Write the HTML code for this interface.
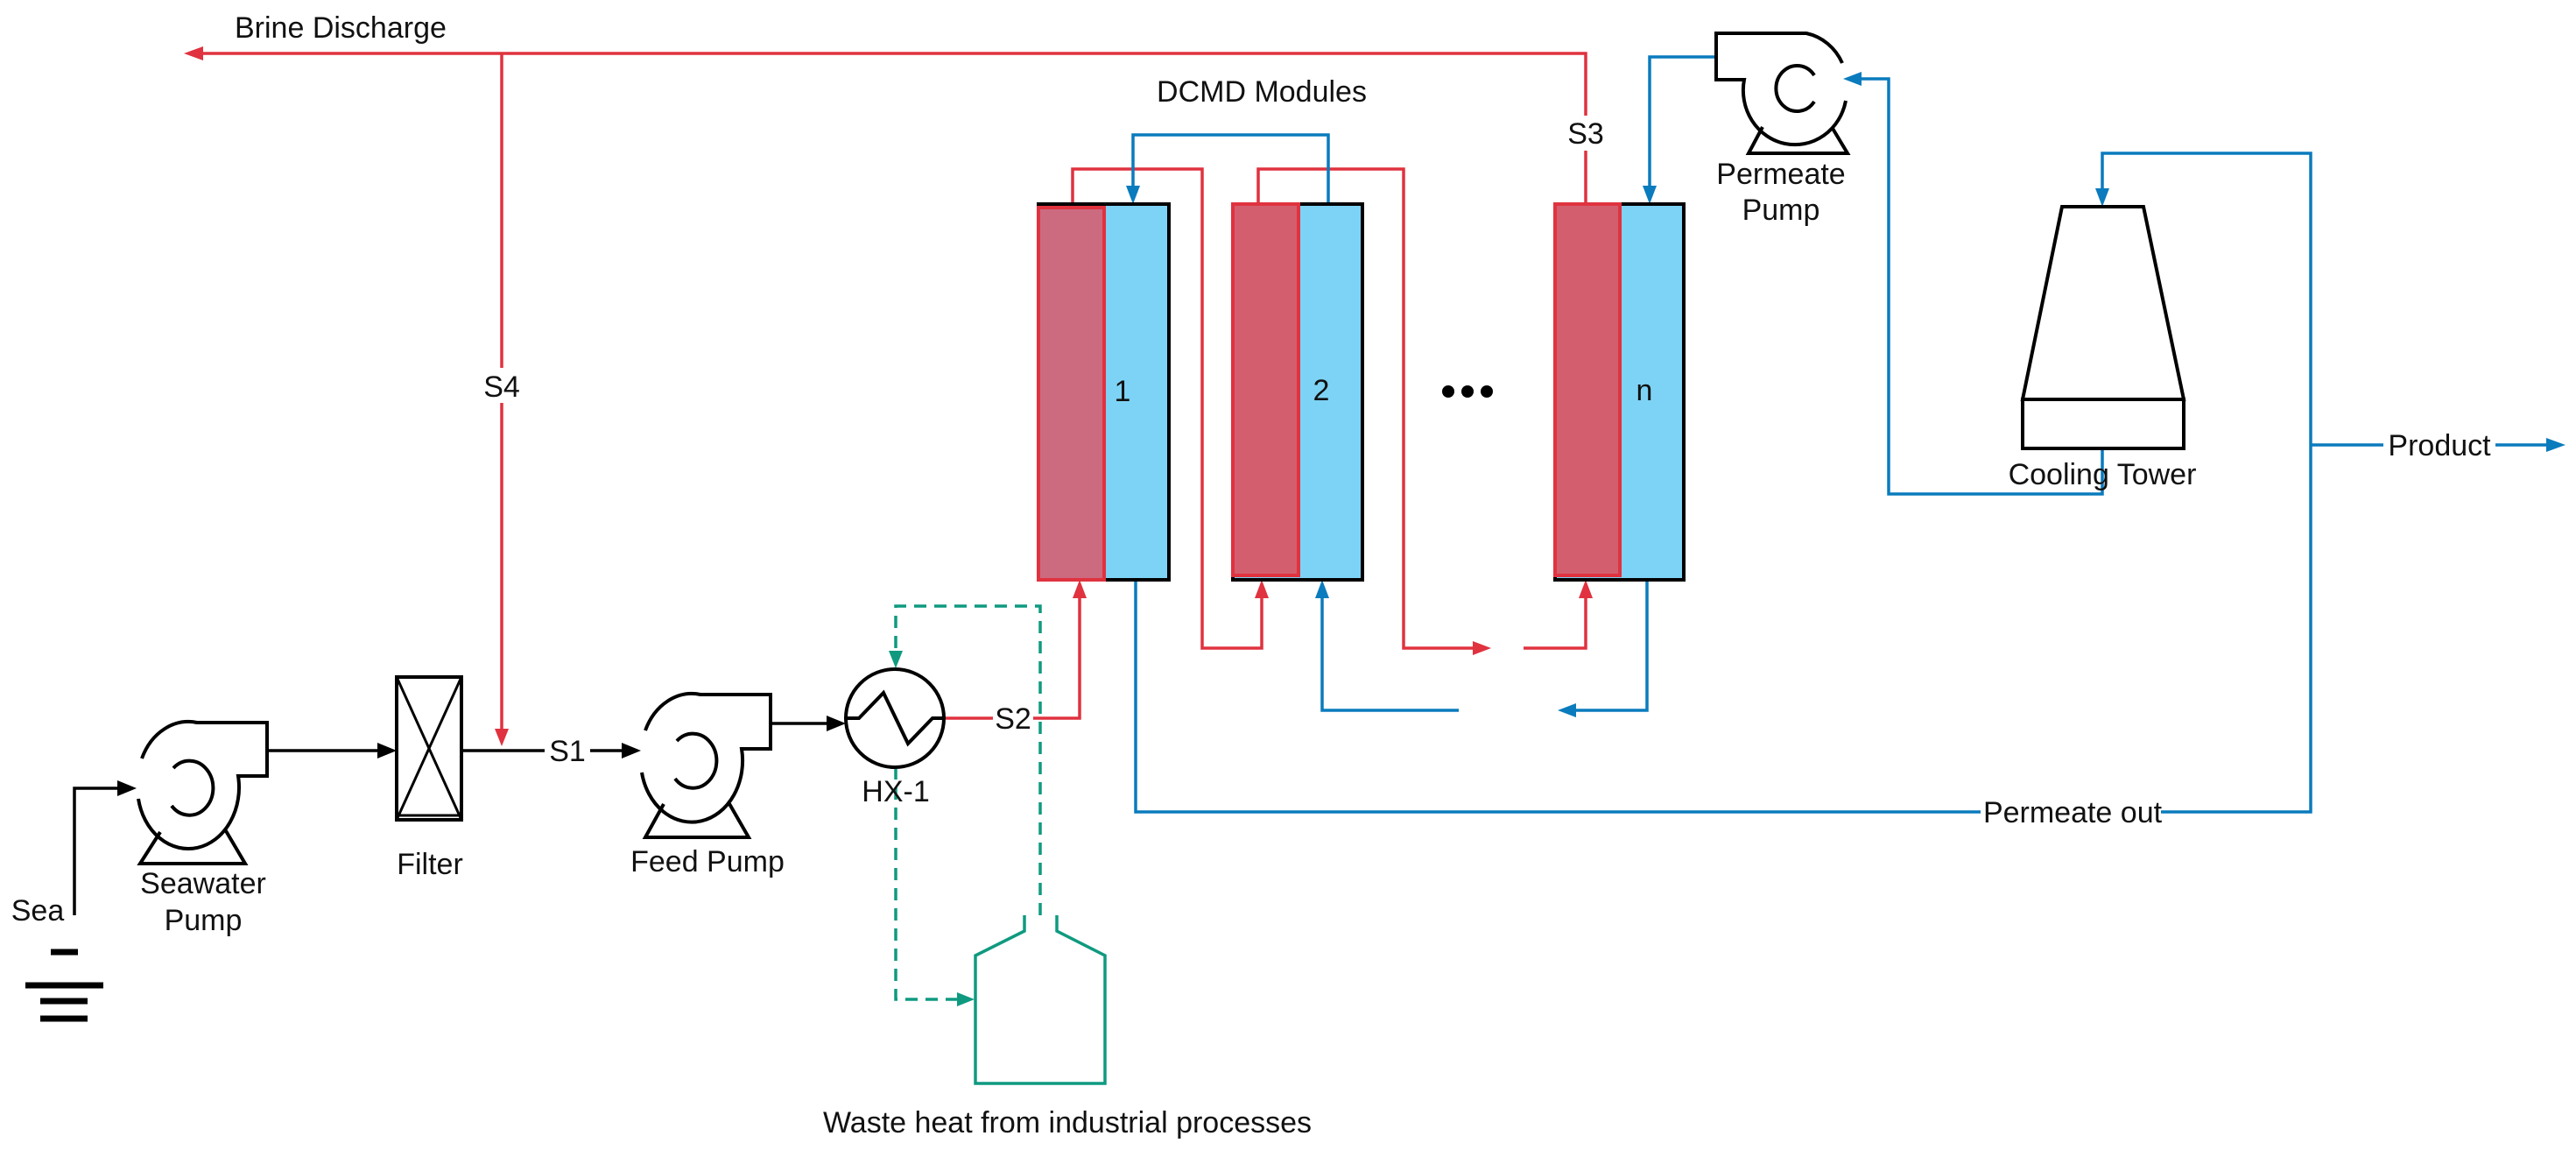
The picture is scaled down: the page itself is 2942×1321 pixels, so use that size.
<!DOCTYPE html>
<html><head><meta charset="utf-8"><style>
html,body{margin:0;padding:0;background:#fff;}
svg{display:block;}
text{font-family:"Liberation Sans",sans-serif;font-size:34px;fill:#111;}
</style></head><body>
<svg width="2942" height="1321" viewBox="0 0 2942 1321" xmlns="http://www.w3.org/2000/svg">
<g fill="none" stroke-linejoin="miter">
<g stroke="#e0323f" stroke-width="3.5">
<path d="M1811,232 V61 H228"/>
<path d="M573,61 V835"/>
<path d="M1079,820 H1233 V680"/>
<path d="M1225,236 V193 H1373 V740 H1441 V675"/>
<path d="M1437,232 V193 H1603 V740 H1685"/>
<path d="M1740,740 H1811 V678"/>
</g>
<g fill="#e0323f">
<path d="M210,61 L232,53 L232,69 z"/>
<path d="M573,852 L565,832 L581,832 z"/>
<path d="M1233,662 L1225,683 L1241,683 z"/>
<path d="M1441,662 L1433,683 L1449,683 z"/>
<path d="M1703,740 L1682,732 L1682,748 z"/>
<path d="M1811,662 L1803,683 L1819,683 z"/>
</g>
<g stroke="#0a7bbd" stroke-width="3.5">
<path d="M1517,232 V154 H1294 V215"/>
<path d="M1510,678 V811 H1666"/>
<path d="M1881,662 V811 H1797"/>
<path d="M1297,662 V927 H2639 V175 H2401 V218"/>
<path d="M2639,508 H2910"/>
<path d="M2401,512 V564 H2157 V90 H2122"/>
<path d="M1961,65 H1884 V215"/>
</g>
<g fill="#0a7bbd">
<path d="M1294,233 L1286,212 L1302,212 z"/>
<path d="M1510,662 L1502,683 L1518,683 z"/>
<path d="M1779,811 L1800,803 L1800,819 z"/>
<path d="M2401,236 L2393,215 L2409,215 z"/>
<path d="M2930,508 L2908,500 L2908,516 z"/>
<path d="M2105,90 L2126,82 L2126,98 z"/>
<path d="M1884,233 L1876,212 L1892,212 z"/>
</g>
<g stroke="#0f9a80" stroke-width="3.5" stroke-dasharray="14,9">
<path d="M1188,1045 V692 H1023 V745"/>
<path d="M1023,876 V1141 H1095"/>
</g>
<g fill="#0f9a80">
<path d="M1023,763 L1015,743 L1031,743 z"/>
<path d="M1113,1141 L1093,1133 L1093,1149 z"/>
</g>
<path d="M1170,1045 V1063 L1114,1091 V1237 H1262 V1091 L1207,1063 V1045" stroke="#0f9a80" stroke-width="3.5"/>
<g stroke-width="4">
<rect x="1186" y="233" width="149" height="429" fill="#7dd3f5" stroke="#000"/>
<rect x="1186" y="237" width="75" height="425" fill="#cc6a80" stroke="#e0323f"/>
<rect x="1408" y="233" width="148" height="429" fill="#7dd3f5" stroke="#000"/>
<rect x="1408" y="233" width="75" height="424" fill="#d35f6e" stroke="#e0323f"/>
<rect x="1776" y="233" width="147" height="429" fill="#7dd3f5" stroke="#000"/>
<rect x="1776" y="233" width="74" height="424" fill="#d35f6e" stroke="#e0323f"/>
</g>
<g stroke="#000" stroke-width="4">
<path d="M85,1045 V900 H138" stroke-width="3.5"/>
<path d="M305,857 H434" stroke-width="3.5"/>
<path d="M527,857 H712" stroke-width="3.5"/>
<path d="M880,826 H946" stroke-width="3.5"/>
<path d="M162,866 A58,70 0 0 1 225,825 H305 V886 H272 A58,70 0 0 1 158,912"/>
<path d="M198,877 A27,31 0 1 1 196,920"/>
<path d="M183,950 L160,986 H280 L257,947"/>
<path d="M737,834 A58,70 0 0 1 800,793 H880 V855 H847 A58,70 0 0 1 733,882"/>
<path d="M773,846 A27,31 0 1 1 771,889"/>
<path d="M758,918 L737,956 H855 L832,916"/>
<path d="M2104,72 A58,61 0 0 0 2063,38 H1960 V91 H1992 A58,61 0 0 0 2108,115"/>
<path d="M2072,86 A24,26 0 1 0 2072,116"/>
<path d="M2013,145 L1997,175 H2110 L2092,145"/>
<rect x="453" y="773" width="74" height="163"/>
<path d="M453,931 H527 M453,773 L527,936 M527,773 L453,936" stroke-width="3"/>
<circle cx="1022" cy="820" r="56"/>
<path d="M967,820 H981 L1009,791 L1037,849 L1065,820 H1078"/>
<path d="M58,1087 H89 M29,1125 H118 M46,1143 H100 M46,1163 H100" stroke-width="7"/>
<path d="M2355,236 H2448 L2494,456 H2310 Z"/>
<rect x="2310" y="456" width="184" height="56"/>
</g>
<g fill="#000">
<path d="M156,900 L134,891 L134,909 z"/>
<path d="M453,857 L431,848 L431,866 z"/>
<path d="M732,857 L710,848 L710,866 z"/>
<path d="M966,826 L944,817 L944,835 z"/>
</g>
</g>
<g fill="#fff">
<rect x="540" y="420" width="66" height="40"/>
<rect x="622" y="838" width="52" height="38"/>
<rect x="1134" y="800" width="46" height="38"/>
<rect x="1776" y="132" width="70" height="40"/>
<rect x="2262" y="908" width="206" height="38"/>
<rect x="2722" y="488" width="128" height="40"/>
</g>
<text x="268" y="43">Brine Discharge</text>
<text x="573" y="453" text-anchor="middle">S4</text>
<text x="648" y="869" text-anchor="middle">S1</text>
<text x="1157" y="832" text-anchor="middle">S2</text>
<text x="1811" y="164" text-anchor="middle">S3</text>
<text x="1441" y="116" text-anchor="middle">DCMD Modules</text>
<text x="1282" y="458" text-anchor="middle">1</text>
<text x="1509" y="457" text-anchor="middle">2</text>
<text x="1878" y="457" text-anchor="middle">n</text>
<circle cx="1654" cy="447" r="7" fill="#000"/><circle cx="1676" cy="447" r="7" fill="#000"/><circle cx="1698" cy="447" r="7" fill="#000"/>
<text x="2034" y="210" text-anchor="middle">Permeate</text>
<text x="2034" y="251" text-anchor="middle">Pump</text>
<text x="2401" y="553" text-anchor="middle">Cooling Tower</text>
<text x="2786" y="520" text-anchor="middle">Product</text>
<text x="2367" y="939" text-anchor="middle">Permeate out</text>
<text x="43" y="1051" text-anchor="middle">Sea</text>
<text x="232" y="1020" text-anchor="middle">Seawater</text>
<text x="232" y="1062" text-anchor="middle">Pump</text>
<text x="491" y="998" text-anchor="middle">Filter</text>
<text x="808" y="995" text-anchor="middle">Feed Pump</text>
<text x="1023" y="915" text-anchor="middle">HX-1</text>
<text x="1219" y="1293" text-anchor="middle">Waste heat from industrial processes</text>
</svg>
</body></html>
